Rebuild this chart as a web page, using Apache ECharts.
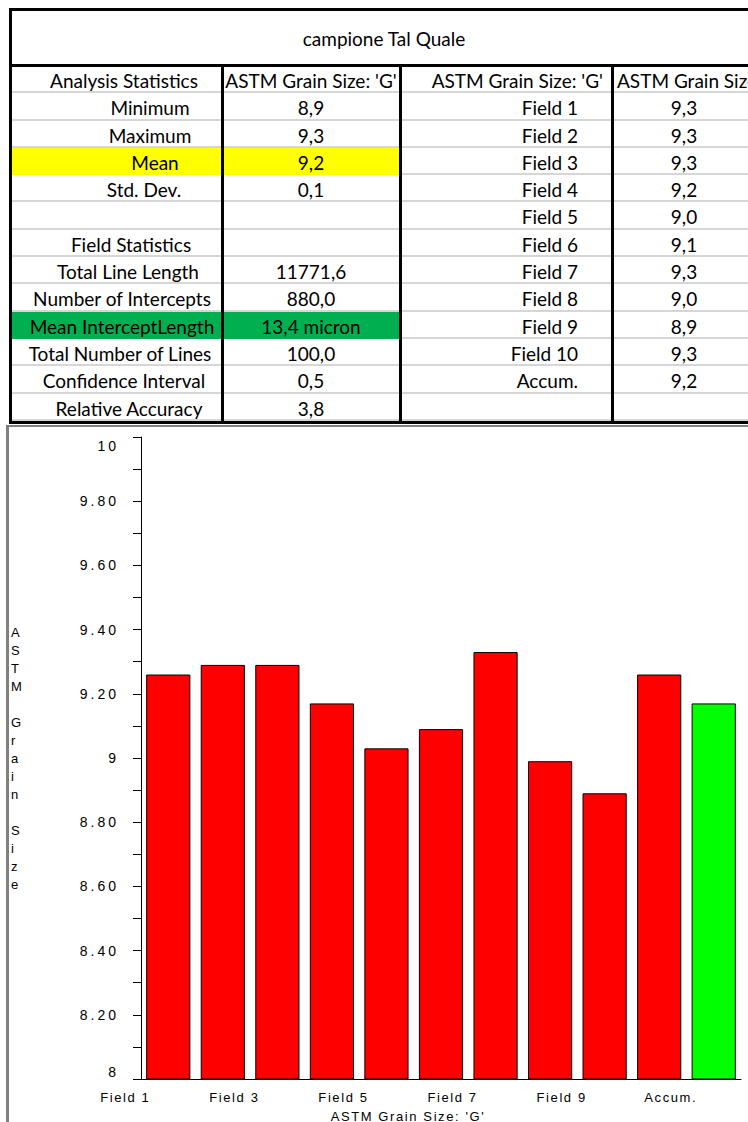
<!DOCTYPE html>
<html>
<head>
<meta charset="utf-8">
<script src="https://cdn.jsdelivr.net/npm/echarts@6/dist/echarts.min.js"></script>
<style>
  body { margin: 0; background: #fff; overflow: hidden; width: 748px; height: 1122px; position: relative; }
  #sheet { position: absolute; left: 0; top: 0; width: 748px; height: 425px; overflow: hidden;
           font-family: Lato, "Open Sans", sans-serif; font-size: 19px; color: #000; }
  #title { position: absolute; left: 12px; top: 10px; width: 744px; height: 54px; line-height: 58px; text-align: center; }
  #rows { position: absolute; left: 10px; top: 66px; display: grid;
          grid-template-columns: 212px 178px 212px 144px; grid-auto-rows: 27.3px; }
  #rows div { box-sizing: border-box; border-bottom: 2px solid #d6d6d6; line-height: 29px; white-space: nowrap; overflow: hidden; }
  #rows .c { text-align: center; }
  #rows .r { text-align: right; padding-right: 34px; }
  .line { position: absolute; background: #000; }
  #chartBox { position: absolute; left: 6px; top: 425px; width: 742px; height: 697px;
              border-left: 3px solid #808080; border-top: 2px solid #808080; }
  #chart { position: absolute; left: 1px; top: 0; width: 738px; height: 695px; }
  /* the old chart spaces its letters out */
  #chart text[text-anchor="end"] { letter-spacing: 3px; }
  #chart text[text-anchor="middle"] { letter-spacing: 1.6px; }
</style>
</head>
<body>
<div id="sheet">
  <div id="title"></div>
  <div id="rows"></div>
  <div class="line" style="left:9px;top:8px;width:739px;height:3px"></div>
  <div class="line" style="left:9px;top:64px;width:739px;height:3px"></div>
  <div class="line" style="left:9px;top:421px;width:739px;height:3px"></div>
  <div class="line" style="left:9px;top:8px;width:3px;height:416px"></div>
  <div class="line" style="left:221px;top:64px;width:3px;height:360px"></div>
  <div class="line" style="left:399px;top:64px;width:3px;height:360px"></div>
  <div class="line" style="left:611px;top:64px;width:3px;height:360px"></div>
</div>
<div id="chartBox"><div id="chart"></div></div>

<script>
// sheet contents
const sheetTitle = 'campione Tal Quale';
const statLabels = ['Analysis Statistics', 'Minimum', 'Maximum', 'Mean', 'Std. Dev.', '',
  'Field Statistics', 'Total Line Length', 'Number of Intercepts', 'Mean InterceptLength',
  'Total Number of Lines', 'Confidence Interval', 'Relative Accuracy'];
const statValues = ["ASTM Grain Size: 'G'", '8,9', '9,3', '9,2', '0,1', '',
  '', '11771,6', '880,0', '13,4 micron', '100,0', '0,5', '3,8'];
const fieldLabels = ["ASTM Grain Size: 'G'", 'Field 1', 'Field 2', 'Field 3', 'Field 4', 'Field 5',
  'Field 6', 'Field 7', 'Field 8', 'Field 9', 'Field 10', 'Accum.', ''];
const fieldValues = ["ASTM Grain Size: 'G'", '9,3', '9,3', '9,3', '9,2', '9,0',
  '9,1', '9,3', '9,0', '8,9', '9,3', '9,2', ''];

// chart data
const categories = ['Field 1', 'Field 2', 'Field 3', 'Field 4', 'Field 5', 'Field 6',
  'Field 7', 'Field 8', 'Field 9', 'Field 10', 'Accum.'];
const grainSize = [9.26, 9.29, 9.29, 9.17, 9.03, 9.09, 9.33, 8.99, 8.89, 9.26, 9.17];
const yTickLabels = ['8', '8.20', '8.40', '8.60', '8.80', '9', '9.20', '9.40', '9.60', '9.80', '10'];
const xName = "ASTM Grain Size: 'G'";
const yName = 'ASTM Grain Size';

// row fills and the odd centring of the first column
const fills = { 'Mean': '#ffff00', 'Mean InterceptLength': '#00b050' };
const indent = { 'Analysis Statistics': 16, 'Minimum': 68, 'Maximum': 68, 'Mean': 78, 'Std. Dev.': 56,
  'Field Statistics': 30, 'Total Line Length': 24, 'Number of Intercepts': 12, 'Mean InterceptLength': 12,
  'Total Number of Lines': 8, 'Confidence Interval': 16, 'Relative Accuracy': 26 };

document.getElementById('title').textContent = sheetTitle;
const rows = document.getElementById('rows');
function cell(text, cls, style) {
  const d = document.createElement('div');
  d.className = cls;
  d.textContent = text;
  Object.assign(d.style, style || {});
  rows.appendChild(d);
}
statLabels.forEach((label, i) => {
  const fill = fills[label];
  const bg = fill ? { background: fill, borderBottomColor: fill } : {};
  cell(label, 'c', Object.assign({ paddingLeft: (indent[label] || 0) + 'px' }, bg));
  cell(statValues[i], 'c', bg);
  cell(fieldLabels[i], 'r', i === 0 ? { paddingRight: '9px' } : {});
  cell(fieldValues[i], i === 0 ? '' : 'c', i === 0 ? { paddingLeft: '5px' } : {});
});

const chart = echarts.init(document.getElementById('chart'), null, { renderer: 'svg' });
chart.setOption({
  animation: false,
  textStyle: { fontFamily: '"Liberation Sans", Arial, sans-serif' },
  grid: { left: 131, top: 10, width: 600, height: 642, containLabel: false, outerBoundsMode: 'none' },
  xAxis: {
    type: 'category',
    data: categories,
    name: xName,
    nameLocation: 'middle',
    nameGap: 31,
    nameTextStyle: { fontSize: 13, color: '#000', padding: [0, 66, 0, 0] },
    axisLine: { lineStyle: { color: '#000' } },
    axisTick: { interval: 0, length: 6, lineStyle: { color: '#000' } },
    axisLabel: { interval: 1, fontSize: 13, color: '#000', margin: 12, padding: [0, 86, 0, 0] }
  },
  yAxis: {
    type: 'value',
    min: 8,
    max: 10,
    interval: 0.2,
    name: yName.split('').join('\n'),
    nameLocation: 'middle',
    nameRotate: 0,
    nameGap: 130,
    nameTextStyle: { fontSize: 13, color: '#000', lineHeight: 18, align: 'left' },
    axisLine: { show: true, lineStyle: { color: '#000' } },
    axisTick: { show: true, length: 8, lineStyle: { color: '#000' } },
    minorTick: { show: true, splitNumber: 2, length: 8, lineStyle: { color: '#000' } },
    splitLine: { show: false },
    axisLabel: {
      fontSize: 14,
      color: '#000',
      margin: 22,
      // end labels sit inside the axis, as in the original
      formatter: (v, i) => {
        if (i === 0) return '{low|' + yTickLabels[i] + '}';
        if (i === yTickLabels.length - 1) return '{high|' + yTickLabels[i] + '}';
        return yTickLabels[i];
      },
      rich: {
        low: { fontSize: 14, padding: [0, 0, 14, 0] },
        high: { fontSize: 14, padding: [18, 0, 0, 0] }
      }
    }
  },
  series: [
    {
      type: 'bar',
      data: grainSize,
      barCategoryGap: '19%',
      itemStyle: {
        color: p => categories[p.dataIndex] === 'Accum.' ? '#00ff00' : '#ff0000',
        borderColor: '#000',
        borderWidth: 1
      }
    }
  ]
});
</script>
</body>
</html>
